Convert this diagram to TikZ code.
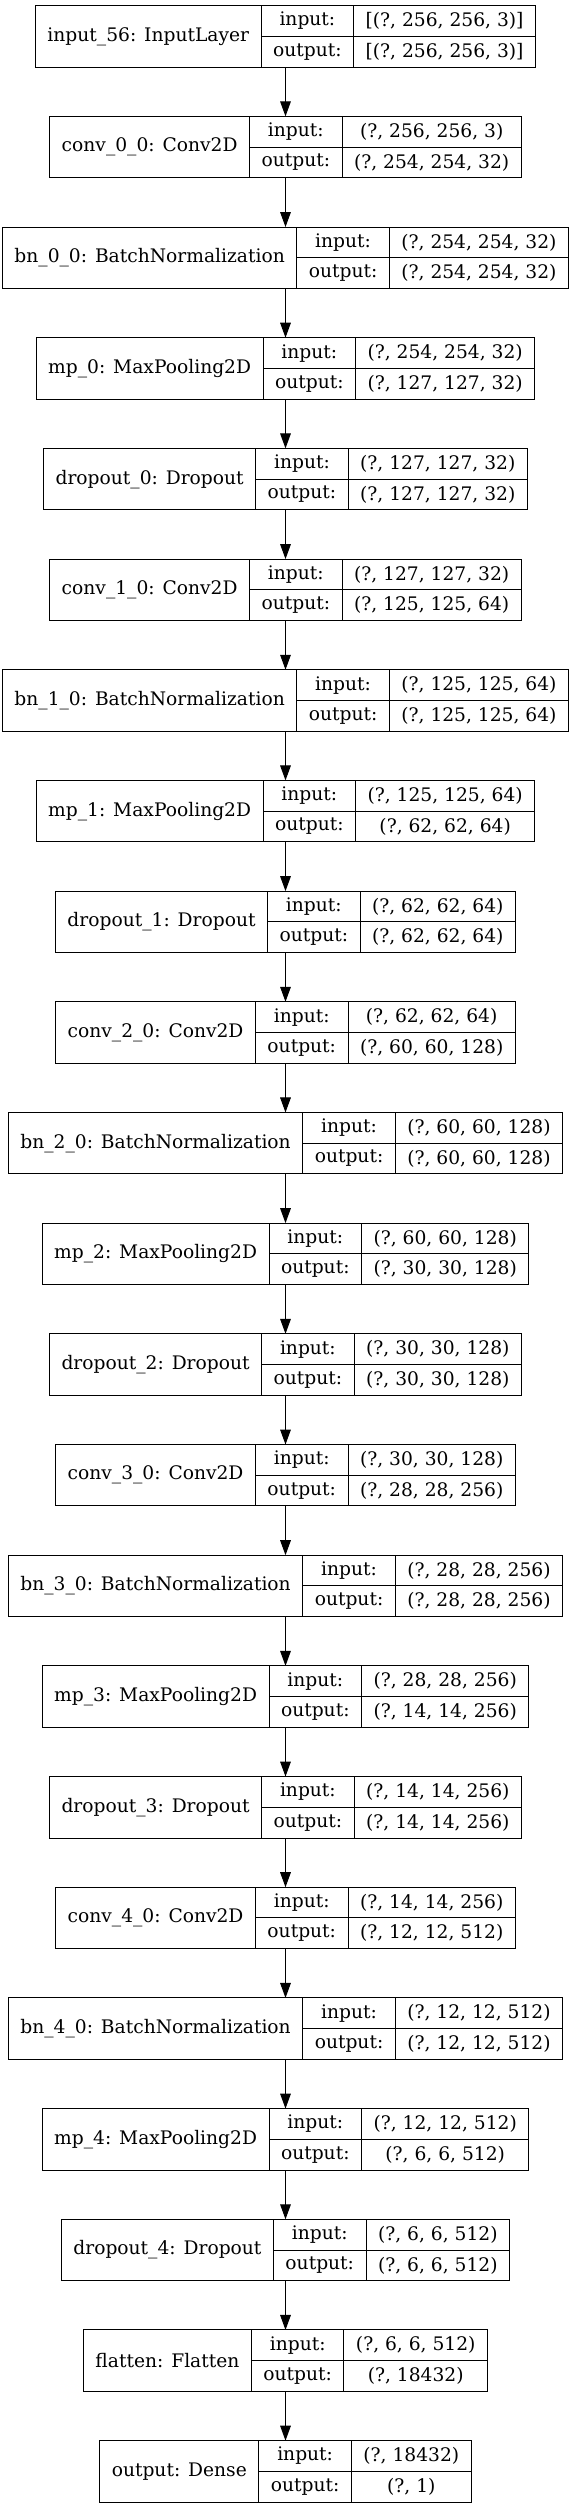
\documentclass[tikz,border=0pt]{standalone}
\usepackage{fontspec}
\setmainfont{DejaVu Serif}
\usetikzlibrary{arrows.meta}

\newlength{\wlbl}
\newlength{\wio}
\newlength{\win}
\newlength{\wout}
\newcommand{\layerfont}{\fontsize{14}{16}\selectfont}
% width of a text in the layer font, measured outside the picture's null font
\newcommand{\measure}[2]{%
  \pgfinterruptpicture\setbox0=\hbox{\layerfont #2}\global#1=\wd0\endpgfinterruptpicture}

\tikzset{
  frame/.style={draw,line width=0.75pt,minimum height=46.1pt,inner sep=0pt,outer sep=0pt},
  cell/.style={draw,line width=0.75pt,minimum height=46.1pt,inner sep=0pt,outer sep=0pt},
  half/.style={draw,line width=0.75pt,minimum height=23.05pt,inner sep=0pt,outer sep=0pt},
  arr/.style={line width=0.75pt,-{Triangle[length=11.25pt,width=8pt]}}
}

\begin{document}
\begin{tikzpicture}[x=0.75pt,y=-0.75pt,font=\layerfont]

\useasboundingbox (0,0) rectangle (571,2508);

\measure{\wio}{output:}

% one box per layer: name | input:/output: | shapes
\foreach \lbl/\vin/\vout [count=\i from 0] in {
  {input\_56: InputLayer}/{[(?, 256, 256, 3)]}/{[(?, 256, 256, 3)]},
  {conv\_0\_0: Conv2D}/{(?, 256, 256, 3)}/{(?, 254, 254, 32)},
  {bn\_0\_0: BatchNormalization}/{(?, 254, 254, 32)}/{(?, 254, 254, 32)},
  {mp\_0: MaxPooling2D}/{(?, 254, 254, 32)}/{(?, 127, 127, 32)},
  {dropout\_0: Dropout}/{(?, 127, 127, 32)}/{(?, 127, 127, 32)},
  {conv\_1\_0: Conv2D}/{(?, 127, 127, 32)}/{(?, 125, 125, 64)},
  {bn\_1\_0: BatchNormalization}/{(?, 125, 125, 64)}/{(?, 125, 125, 64)},
  {mp\_1: MaxPooling2D}/{(?, 125, 125, 64)}/{(?, 62, 62, 64)},
  {dropout\_1: Dropout}/{(?, 62, 62, 64)}/{(?, 62, 62, 64)},
  {conv\_2\_0: Conv2D}/{(?, 62, 62, 64)}/{(?, 60, 60, 128)},
  {bn\_2\_0: BatchNormalization}/{(?, 60, 60, 128)}/{(?, 60, 60, 128)},
  {mp\_2: MaxPooling2D}/{(?, 60, 60, 128)}/{(?, 30, 30, 128)},
  {dropout\_2: Dropout}/{(?, 30, 30, 128)}/{(?, 30, 30, 128)},
  {conv\_3\_0: Conv2D}/{(?, 30, 30, 128)}/{(?, 28, 28, 256)},
  {bn\_3\_0: BatchNormalization}/{(?, 28, 28, 256)}/{(?, 28, 28, 256)},
  {mp\_3: MaxPooling2D}/{(?, 28, 28, 256)}/{(?, 14, 14, 256)},
  {dropout\_3: Dropout}/{(?, 14, 14, 256)}/{(?, 14, 14, 256)},
  {conv\_4\_0: Conv2D}/{(?, 14, 14, 256)}/{(?, 12, 12, 512)},
  {bn\_4\_0: BatchNormalization}/{(?, 12, 12, 512)}/{(?, 12, 12, 512)},
  {mp\_4: MaxPooling2D}/{(?, 12, 12, 512)}/{(?, 6, 6, 512)},
  {dropout\_4: Dropout}/{(?, 6, 6, 512)}/{(?, 6, 6, 512)},
  {flatten: Flatten}/{(?, 6, 6, 512)}/{(?, 18432)},
  {output: Dense}/{(?, 18432)}/{(?, 1)}
}{
  \measure{\wlbl}{\lbl}
  \measure{\win}{\vin}
  \measure{\wout}{\vout}
  \pgfmathsetlengthmacro{\wa}{\wlbl+18pt}
  \pgfmathsetlengthmacro{\wb}{\wio+18pt}
  \pgfmathsetlengthmacro{\wc}{max(\win,\wout)+18pt}
  \pgfmathsetlengthmacro{\wt}{\wa+\wb+\wc}

  % outer frame, centred on the arrow line
  \node[frame,minimum width=\wt] (L\i) at (285.5,{36.4+110.68*\i}) {};

  % name cell
  \node[cell,minimum width=\wa,anchor=west] (N\i) at (L\i.west) {\lbl};

  % input/output cells
  \node[half,minimum width=\wb,anchor=north west] (I\i) at (N\i.north east) {input:};
  \node[half,minimum width=\wb,anchor=north west] (O\i) at (I\i.south west) {output:};
  \node[half,minimum width=\wc,anchor=north west] (IV\i) at (I\i.north east) {\vin};
  \node[half,minimum width=\wc,anchor=north west] (OV\i) at (O\i.north east) {\vout};

  \ifnum\i>0
    \pgfmathtruncatemacro{\prev}{\i-1}
    \draw[arr] (L\prev) -- (L\i);
  \fi
}

\end{tikzpicture}
\end{document}
